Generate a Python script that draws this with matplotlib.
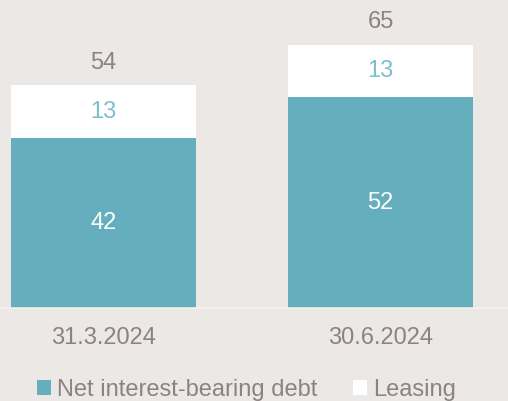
import matplotlib
matplotlib.use("Agg")
import matplotlib.pyplot as plt
from matplotlib.patches import Patch

categories = ["31.3.2024", "30.6.2024"]
net_debt = [42, 52]
leasing = [13, 13]
totals = ["54", "65"]

bg = "#ECE8E5"
teal = "#64AEBD"
gray = "#8C8282"
light_teal = "#7DBFCD"
fs = 17

plt.rcParams['font.family'] = ['Liberation Sans', 'DejaVu Sans']

fig = plt.figure(figsize=(5.08, 4.01), dpi=100, facecolor=bg)
H = 401.0
ax = fig.add_axes([0, 93 / H, 1, 308 / H])
ax.set_facecolor(bg)

x = [0, 1]
w = 0.668
ax.bar(x, net_debt, width=w, color=teal, zorder=2)
ax.bar(x, leasing, width=w, bottom=net_debt, color="white", zorder=2)

for i in range(len(x)):
    ax.text(x[i], net_debt[i] / 2, str(net_debt[i]), ha="center", va="center",
            color="white", fontsize=fs)
    ax.text(x[i], net_debt[i] + leasing[i] / 2, str(leasing[i]), ha="center",
            va="center", color=light_teal, fontsize=fs)
    ax.text(x[i], net_debt[i] + leasing[i] + 5.6, totals[i], ha="center",
            va="center", color=gray, fontsize=fs)

ax.set_xlim(-103.5 / 277, (508 - 103.5) / 277)
ax.set_ylim(0, 308 / 4.05)
ax.set_xticks(x)
ax.set_xticklabels(categories, color=gray, fontsize=fs)
ax.tick_params(axis="x", length=0, pad=14)
ax.set_yticks([])
for s in ["top", "right", "left"]:
    ax.spines[s].set_visible(False)
ax.spines["bottom"].set_color("#F4F1EF")
ax.spines["bottom"].set_linewidth(1.2)

handles = [Patch(facecolor=teal, label="Net interest-bearing debt"),
           Patch(facecolor="white", label="Leasing")]
leg = fig.legend(handles=handles, loc="center", bbox_to_anchor=(0.485, 1 - 390 / H),
                 ncol=2, frameon=False, fontsize=fs, handlelength=0.6,
                 handleheight=0.6, handletextpad=0.25, columnspacing=1.5,
                 borderpad=0, borderaxespad=0)
for t in leg.get_texts():
    t.set_color(gray)

fig.savefig("out.png", dpi=100, facecolor=bg)
